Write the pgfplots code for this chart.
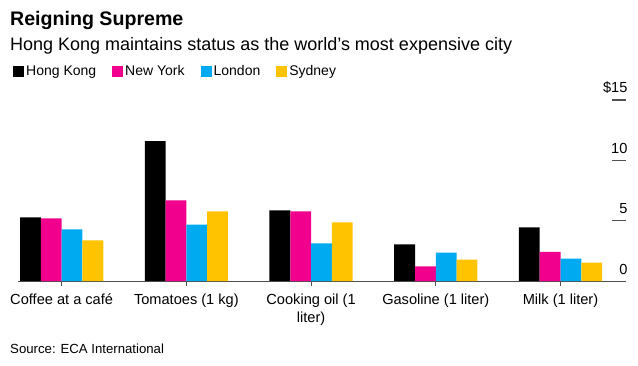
\documentclass[border=0pt]{standalone}
\usepackage{pgfplots}
\pgfplotsset{compat=1.18}
\usepackage{fontspec}
\setmainfont{Liberation Sans}
\definecolor{hk}{RGB}{0,0,0}
\definecolor{ny}{RGB}{240,0,140}
\definecolor{ld}{RGB}{0,170,240}
\definecolor{sy}{RGB}{255,195,0}
\definecolor{axgray}{RGB}{80,80,80}
\begin{document}
\begin{tikzpicture}
\path[use as bounding box] (0,0) rectangle (638pt,365pt);
\node[anchor=base west, inner sep=0pt, font=\fontsize{19.6}{22}\selectfont\bfseries] at (10pt,339pt) {Reigning Supreme};
\node[anchor=base west, inner sep=0pt, font=\fontsize{18}{20}\selectfont] at (10pt,314pt) {Hong Kong maintains status as the world's most expensive city};
\node[anchor=base west, inner sep=0pt, font=\fontsize{13.2}{15}\selectfont] at (10pt,12pt) {Source: ECA International};
\begin{axis}[
  at={(18pt,84pt)}, anchor=south west,
  scale only axis, width=608pt, height=181pt,
  xmin=-0.35, xmax=4.525, ymin=0, ymax=15,
  ybar=0pt, bar width=20.8pt,
  axis x line*=bottom, axis y line*=right,
  x axis line style={axgray, line width=1pt},
  y axis line style={draw=none},
  tick align=outside, major tick length=5pt,
  xtick style={axgray, line width=0.8pt},
  ytick style={draw=none},
  xtick={0,1,2,3,4},
  xticklabels={Coffee at a café, Tomatoes (1 kg), Cooking oil (1\\liter), Gasoline (1 liter), Milk (1 liter)},
  xticklabel style={align=center, font=\fontsize{14.6}{18.5}\selectfont, yshift=-4pt},
  ytick={0,5,10,15},
  yticklabels={0,5,10,\$15},
  yticklabel style={anchor=south east, font=\fontsize{14.6}{18}\selectfont, yshift=3pt},
  legend style={at={(axis description cs:-0.0132,1.215)}, anchor=north west, draw=none, fill=none,
    font=\fontsize{14}{16}\selectfont, /tikz/every even column/.append style={column sep=14pt}},
  legend columns=4,
  legend image code/.code={\draw[#1,draw=none] (0pt,-5.5pt) rectangle (11pt,5.5pt);},
]
\addplot[fill=hk, draw=none] coordinates {(0,5.27) (1,11.6) (2,5.86) (3,3.03) (4,4.44)};
\addplot[fill=ny, draw=none] coordinates {(0,5.19) (1,6.69) (2,5.78) (3,1.22) (4,2.42)};
\addplot[fill=ld, draw=none] coordinates {(0,4.28) (1,4.67) (2,3.11) (3,2.36) (4,1.86)};
\addplot[fill=sy, draw=none] coordinates {(0,3.36) (1,5.78) (2,4.86) (3,1.78) (4,1.53)};
\legend{Hong Kong, New York, London, Sydney}
\end{axis}
\draw[axgray, line width=1.1pt] (612pt,144.3pt) -- (626pt,144.3pt);
\draw[axgray, line width=1.1pt] (612pt,204.7pt) -- (626pt,204.7pt);
\draw[axgray, line width=1.1pt] (612pt,265pt) -- (626pt,265pt);
\end{tikzpicture}
\end{document}
